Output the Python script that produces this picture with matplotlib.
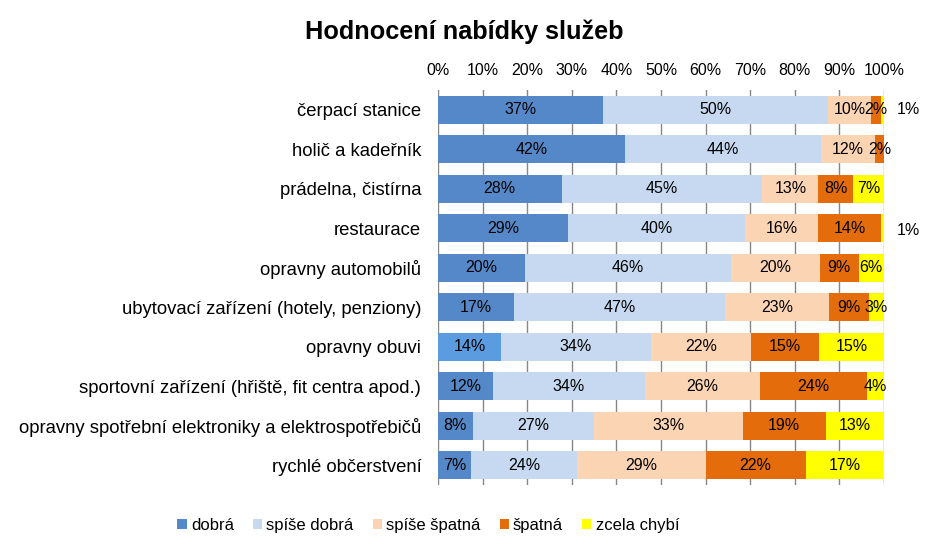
import matplotlib.pyplot as plt
import numpy as np

plt.rcParams['font.family'] = ['Liberation Sans', 'DejaVu Sans']

categories = ["čerpací stanice", "holič a kadeřník", "prádelna, čistírna", "restaurace",
              "opravny automobilů", "ubytovací zařízení (hotely, penziony)", "opravny obuvi",
              "sportovní zařízení (hřiště, fit centra apod.)",
              "opravny spotřební elektroniky a elektrospotřebičů", "rychlé občerstvení"]
series = ["dobrá", "spíše dobrá", "spíše špatná", "špatná", "zcela chybí"]

dobra = [37.1, 41.9, 27.7, 29.2, 19.6, 17.0, 14.1, 12.3, 7.8, 7.3]
spise_dobra = [50.4, 44.0, 45.0, 39.7, 46.0, 47.4, 33.7, 34.0, 27.1, 23.9]
spise_spatna = [9.6, 12.0, 12.6, 16.4, 20.0, 23.2, 22.4, 25.8, 33.4, 28.8]
spatna = [2.3, 2.1, 7.8, 14.1, 8.7, 9.0, 15.2, 24.0, 18.6, 22.4]
zcela_chybi = [0.6, 0.0, 6.8, 0.6, 5.7, 3.4, 14.6, 3.9, 13.1, 17.4]

colors = ["#5588C8", "#C6D9F0", "#FBD4B4", "#E46C0A", "#FFFF00"]

fig = plt.figure(figsize=(9.29, 5.54), dpi=100)
ax = fig.add_axes([0.4715, 0.1245, 0.4801, 0.713])

y = np.arange(len(categories))
left = np.zeros(len(categories))
data = [dobra, spise_dobra, spise_spatna, spatna, zcela_chybi]
for i, (name, vals) in enumerate(zip(series, data)):
    vals = np.array(vals)
    cols = [colors[i]] * len(vals)
    if i == 0:
        cols[6] = "#5B9BE0"
    ax.barh(y, vals, left=left, height=0.7, color=cols, label=name, zorder=2)
    for j, v in enumerate(vals):
        if v <= 0:
            continue
        txt = "%d%%" % int(v + 0.5)
        if v < 1.5:
            ax.text(105.4, y[j] + (0.05 if j == 3 else 0), txt, ha='center', va='center',
                    fontsize=11.5, clip_on=False)
        else:
            ax.text(left[j] + v / 2, y[j], txt, ha='center', va='center', fontsize=11.5, zorder=3)
    left += vals

ax.set_xlim(0, 100)
ax.set_ylim(len(categories) - 0.5, -0.5)
ax.set_yticks(y)
ax.set_yticklabels(categories, fontsize=13.3)
ax.xaxis.tick_top()
ax.set_xticks(np.arange(0, 101, 10))
ax.set_xticklabels(["%d%%" % t for t in range(0, 101, 10)], fontsize=11.5)
ax.tick_params(axis='both', length=0)
ax.tick_params(axis='y', pad=12)
ax.tick_params(axis='x', pad=9)
ax.grid(axis='x', color='#868686', linewidth=1, zorder=0)
for s in ax.spines.values():
    s.set_visible(False)

fig.text(0.5, 0.943, "Hodnocení nabídky služeb", ha='center', va='center',
         fontsize=18.2, fontweight='bold')

fig.legend(loc='center', bbox_to_anchor=(0.461, 0.052), ncol=5, frameon=False,
           fontsize=12, handlelength=0.55, handleheight=0.55, handletextpad=0.25,
           columnspacing=1.15)

fig.savefig("out.png", dpi=100)
